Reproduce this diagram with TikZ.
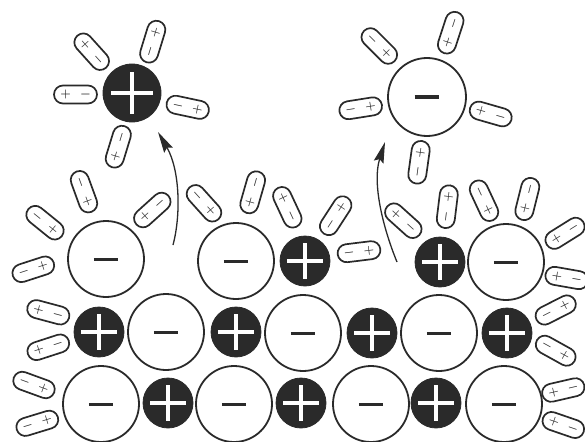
\documentclass[tikz,border=0pt]{standalone}
\usetikzlibrary{arrows.meta}
\definecolor{ink}{HTML}{2A2A2A}
\definecolor{ionfill}{HTML}{2A2A2A}
\tikzset{
  capsule/.style={draw=ink, line width=1.7pt, rounded corners=9pt, fill=white,
    minimum width=43pt, minimum height=18pt, inner sep=0pt, transform shape},
  sgn/.style={inner sep=0pt, text=ink, font=\fontsize{11.5}{11.5}\selectfont\boldmath, transform shape},
  anion/.style={circle, draw=ink, line width=1.8pt, fill=white, inner sep=0pt},
  cation/.style={circle, draw=ionfill, line width=0.8pt, fill=ionfill, inner sep=0pt},
  minusbar/.style={draw=ink, line width=3pt},
  plusbar/.style={draw=white, line width=3.6pt},
  flow/.style={draw=ink, line width=1.3pt, -{Stealth[length=21pt, width=10pt, inset=3pt]}}
}
% water molecule: name, x, y, direction of the positive end
\newcommand\watermol[4]{%
  \begin{scope}[shift={(#2,#3)}, rotate=#4]
    \node[capsule] (#1) at (0,0) {};
    \node[sgn] (#1-pos) at (10,0) {$+$};
    \node[sgn] (#1-neg) at (-10,0) {$-$};
  \end{scope}}
% chloride-type anion: name, x, y, radius
\newcommand\anionat[4]{%
  \node[anion, minimum size={2*#4pt}] (#1) at (#2,#3) {};
  \draw[minusbar] (#1.center) ++({-0.32*#4},0) -- ++({0.64*#4},0);}
% sodium-type cation: name, x, y, radius
\newcommand\cationat[4]{%
  \node[cation, minimum size={2*#4pt}] (#1) at (#2,#3) {};
  \draw[plusbar] (#1.center) ++({-0.72*#4},0) -- ++({1.44*#4},0);
  \draw[plusbar] (#1.center) ++(0,{-0.72*#4}) -- ++(0,{1.44*#4});}
\begin{document}
\begin{tikzpicture}[x=1pt, y=-1pt]
\useasboundingbox (0,0) rectangle (585,441);
\fill[white] (0,0) rectangle (585,441);

% crystal lattice, bottom row
\anionat{r3c0}{101}{404}{38}
\cationat{r3c1}{168}{403}{25}
\anionat{r3c2}{234}{404}{38}
\cationat{r3c3}{301}{403}{25}
\anionat{r3c4}{371}{404}{38}
\cationat{r3c5}{436}{403}{25}
\anionat{r3c6}{504}{404}{38}
% middle row
\cationat{r2c0}{99}{332}{25}
\anionat{r2c1}{166}{332}{38}
\cationat{r2c2}{236}{332}{25}
\anionat{r2c3}{303}{333}{38}
\cationat{r2c4}{372}{333}{25}
\anionat{r2c5}{439}{333}{38}
\cationat{r2c6}{507}{333}{25}
% top row
\anionat{r1c0}{106}{259}{38}
\anionat{r1c2}{236}{261}{38}
\cationat{r1c3}{305}{261}{25}
\cationat{r1c5}{440}{262}{25}
\anionat{r1c6}{506}{262}{38}

% ions already carried off into solution
\cationat{freecat}{132}{93}{29}
\anionat{freean}{427}{97}{39}

% hydration shell of the free cation
\watermol{w1}{75.5}{94.5}{180}
\watermol{w2}{91.7}{51.7}{132}
\watermol{w3}{152.7}{41.7}{73}
\watermol{w4}{187.7}{107.3}{-12}
\watermol{w5}{118.3}{146.7}{-107}
% hydration shell of the free anion
\watermol{w6}{379.3}{46}{-45}
\watermol{w7}{450.7}{32.7}{-108}
\watermol{w8}{360.7}{108.3}{9}
\watermol{w9}{490.7}{114}{164}
\watermol{w10}{419}{162.3}{82}
% water at the crystal surface
\watermol{w11}{33.3}{269.3}{18}
\watermol{w12}{45}{222.7}{-39}
\watermol{w13}{84}{191.7}{-70}
\watermol{w14}{152.3}{210}{-138}
\watermol{w15}{204}{203.3}{-48}
\watermol{w16}{252.7}{192.3}{-106}
\watermol{w17}{287.3}{207.3}{115}
\watermol{w18}{335.7}{215.7}{57}
\watermol{w19}{359}{251.7}{7}
\watermol{w20}{403.3}{220.7}{138}
\watermol{w21}{447.3}{206.7}{83}
\watermol{w22}{484}{200.7}{-65}
\watermol{w23}{527.3}{199}{-104}
\watermol{w24}{565}{233.3}{-148}
\watermol{w25}{566.7}{278}{170}
\watermol{w26}{48.3}{312.3}{165}
\watermol{w27}{48.3}{347.3}{-162}
\watermol{w28}{34}{385}{-20}
\watermol{w29}{37.3}{423.3}{17}
\watermol{w31}{555.7}{310}{27}
\watermol{w32}{555.7}{350.7}{-29}
\watermol{w33}{563.3}{390}{-167}
\watermol{w34}{563.3}{425}{161}

% paths of the leaving ions
\coordinate (leftfrom) at (173,245);
\coordinate (leftto) at (158,132);
\coordinate (rightfrom) at (397,262);
\coordinate (rightto) at (385,142);
\draw[flow] (leftfrom) .. controls (181,215) and (180,170) .. (leftto);
\draw[flow] (rightfrom) .. controls (383,228) and (372,183) .. (rightto);
\end{tikzpicture}
\end{document}
